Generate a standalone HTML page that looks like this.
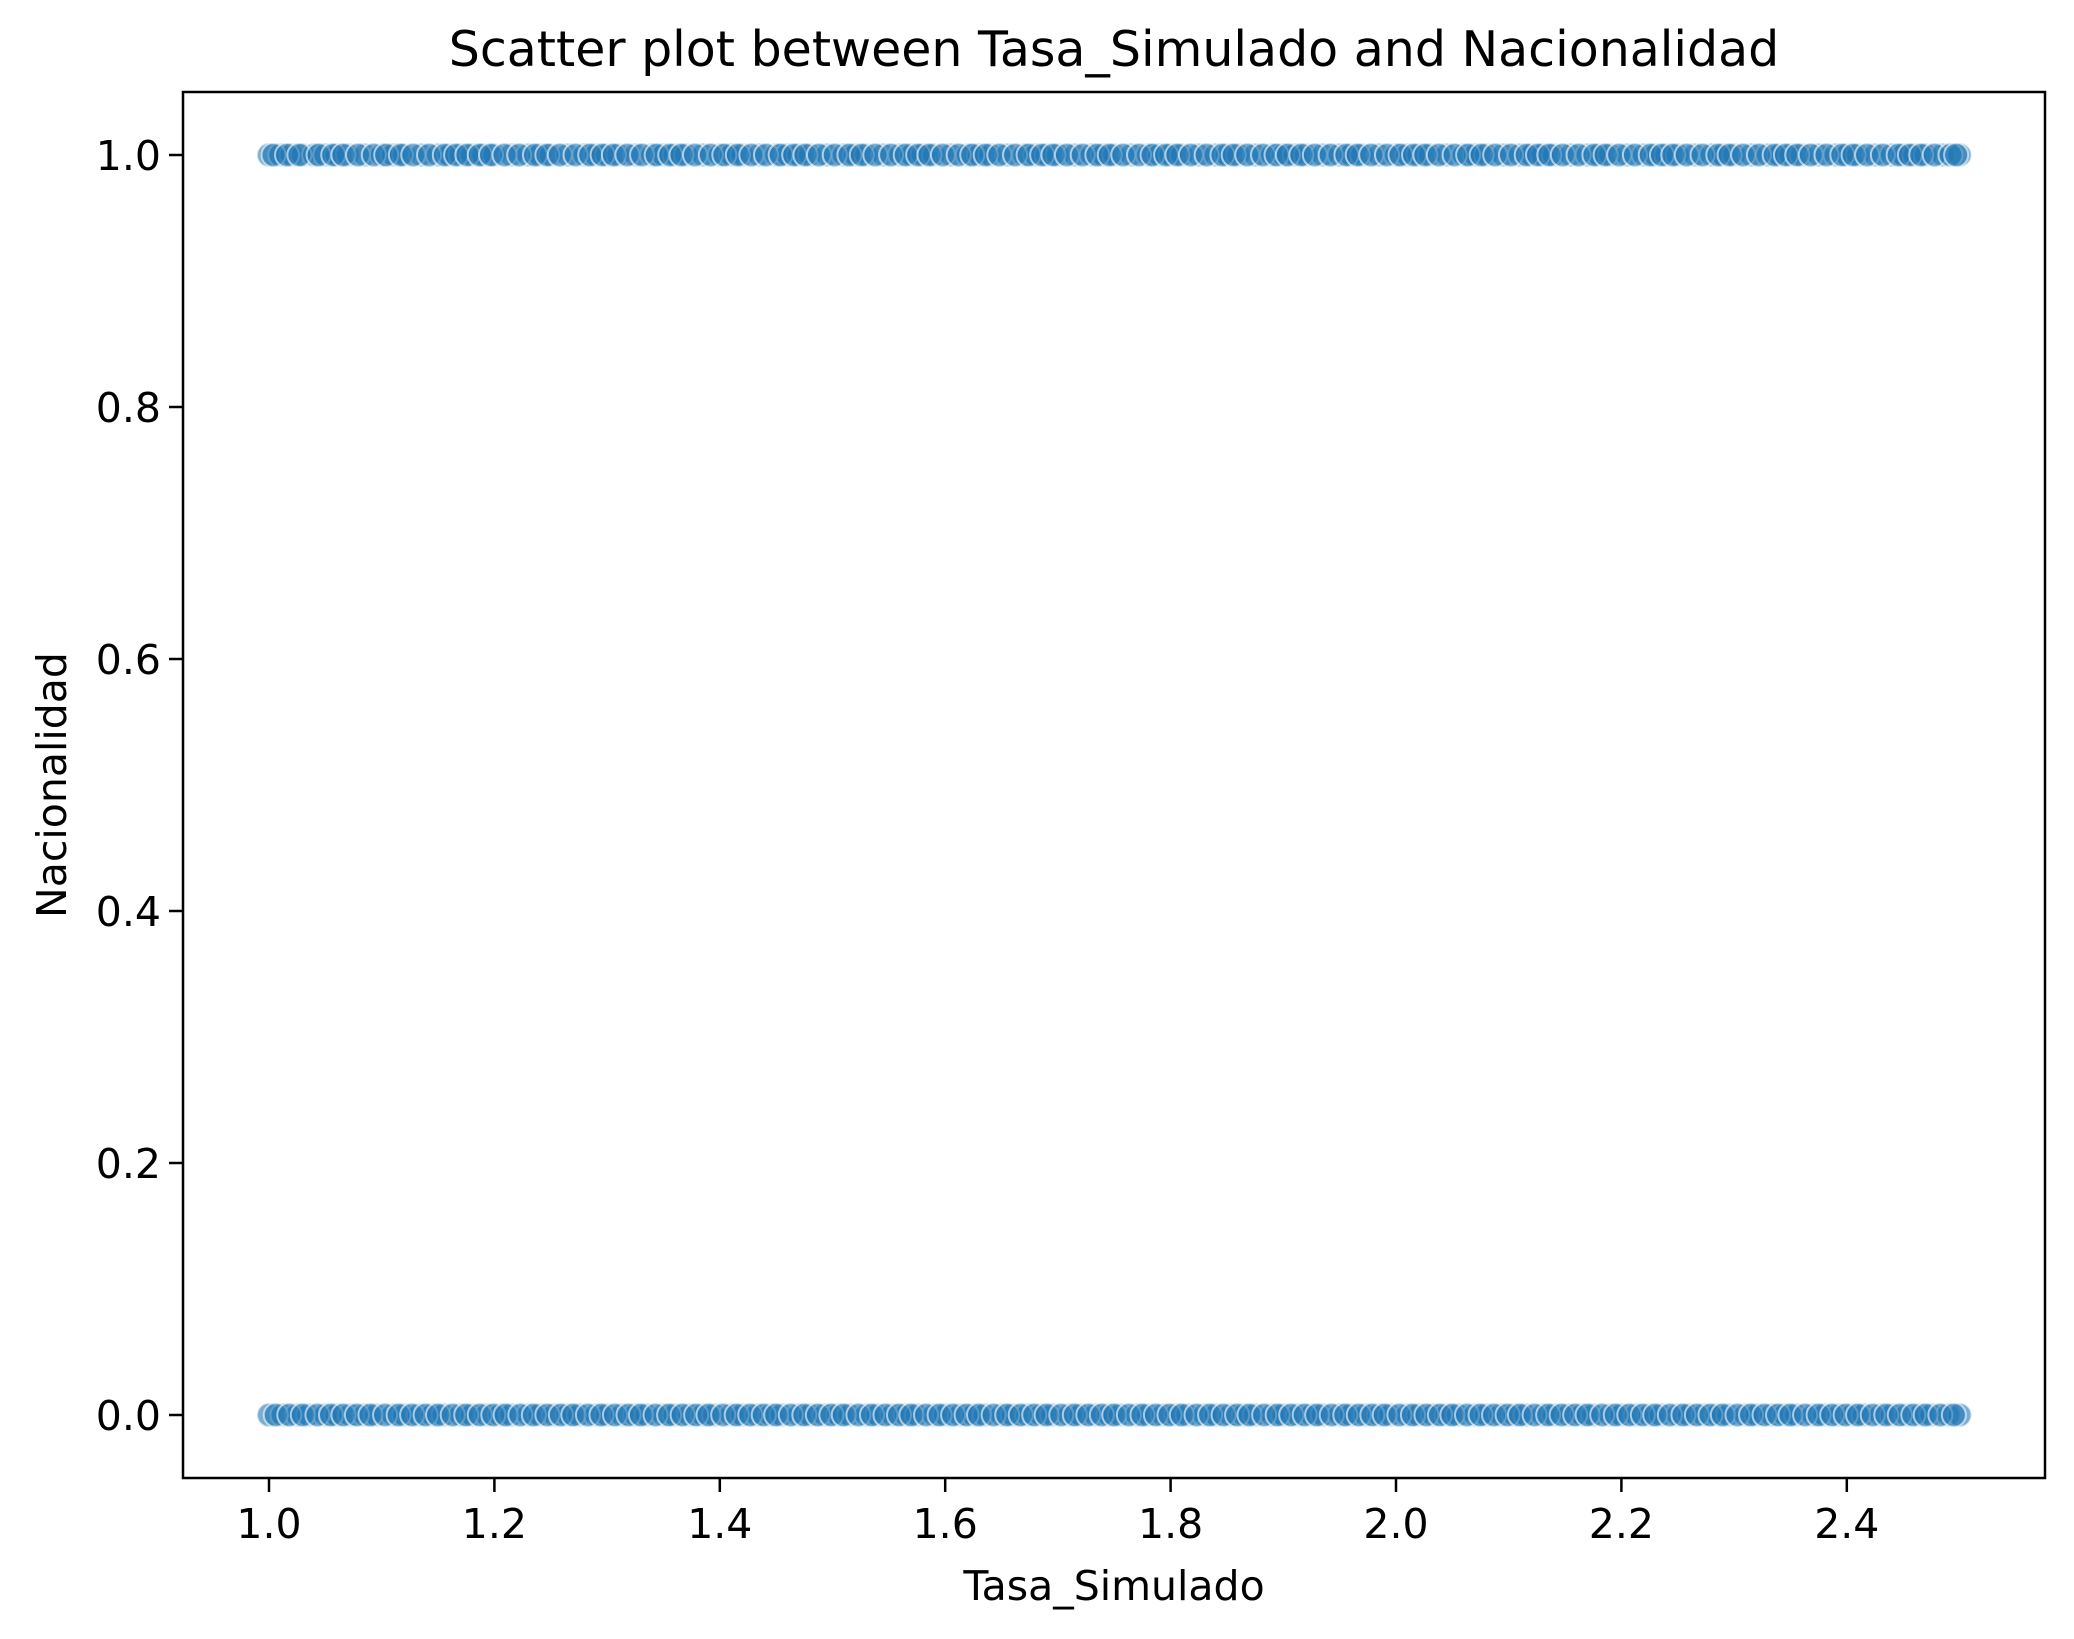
<!DOCTYPE html>
<html><head><meta charset="utf-8"><style>
html,body{margin:0;padding:0;background:#fff;}
svg{display:block;font-family:"DejaVu Sans","Liberation Sans",sans-serif;}
</style></head><body>
<svg id="chart" width="2074" height="1639" viewBox="0 0 2074 1639">
<rect width="2074" height="1639" fill="#fff"/>
<text x="1114" y="66" font-size="49" text-anchor="middle">Scatter plot between Tasa_Simulado and Nacionalidad</text>
<g id="points"></g>
<g id="axes"></g>
<text x="1114" y="1600" font-size="41" text-anchor="middle">Tasa_Simulado</text>
<text transform="translate(66,785) rotate(-90)" font-size="41" text-anchor="middle">Nacionalidad</text>
</svg>
<script>
const xTicks = [1.0, 1.2, 1.4, 1.6, 1.8, 2.0, 2.2, 2.4];
const xTickLabels = ["1.0","1.2","1.4","1.6","1.8","2.0","2.2","2.4"];
const yTicks = [0.0, 0.2, 0.4, 0.6, 0.8, 1.0];
const yTickLabels = ["0.0","0.2","0.4","0.6","0.8","1.0"];
const xTop = [1.00,1.01,1.02,1.03,1.04,1.05,1.06,1.07,1.085,1.10,1.11,1.12,1.135,1.15,1.16,1.17,1.18,1.19,1.20,1.215,1.23,1.24,1.25,1.265,1.28,1.29,1.30,1.31,1.325,1.34,1.35,1.36,1.37,1.385,1.40,1.41,1.42,1.435,1.45,1.46,1.47,1.48,1.495,1.51,1.52,1.53,1.545,1.56,1.57,1.58,1.59,1.605,1.62,1.63,1.64,1.655,1.67,1.68,1.69,1.70,1.715,1.73,1.74,1.75,1.765,1.78,1.79,1.80,1.81,1.825,1.84,1.85,1.86,1.875,1.89,1.90,1.91,1.92,1.935,1.95,1.96,1.97,1.985,2.00,2.01,2.02,2.03,2.045,2.06,2.07,2.08,2.095,2.11,2.12,2.13,2.14,2.155,2.17,2.18,2.19,2.205,2.22,2.23,2.24,2.25,2.265,2.28,2.29,2.30,2.315,2.33,2.34,2.35,2.36,2.375,2.39,2.40,2.41,2.425,2.44,2.45,2.46,2.47,2.485,2.50];
const xTopExtra = [1.004,1.016,1.027,1.044,1.057,1.066,1.079,1.093,1.104,1.117,1.128,1.142,1.156,1.166,1.176,1.187,1.197,1.209,1.222,1.236,1.247,1.258,1.272,1.285,1.296,1.306,1.318,1.331,1.344,1.356,1.366,1.378,1.392,1.404,1.416,1.428,1.441,1.454,1.466,1.476,1.488,1.502,1.515,1.526,1.538,1.552,1.565,1.576,1.586,1.598,1.612,1.624,1.636,1.648,1.662,1.674,1.686,1.696,1.708,1.722,1.735,1.746,1.758,1.772,1.784,1.796,1.806,1.818,1.832,1.846,1.856,1.868,1.882,1.894,1.904,1.916,1.928,1.942,1.956,1.966,1.978,1.992,2.004,2.016,2.026,2.038,2.052,2.064,2.076,2.088,2.102,2.116,2.126,2.136,2.148,2.162,2.176,2.186,2.198,2.212,2.226,2.236,2.246,2.258,2.272,2.286,2.296,2.308,2.322,2.336,2.346,2.356,2.368,2.382,2.396,2.406,2.418,2.432,2.446,2.456,2.466,2.478,2.492,2.497];
const xBottom = [1.00,1.012,1.025,1.035,1.05,1.06,1.072,1.085,1.095,1.11,1.12,1.133,1.145,1.155,1.17,1.18,1.193,1.205,1.215,1.23,1.24,1.253,1.265,1.275,1.29,1.30,1.313,1.325,1.335,1.35,1.36,1.373,1.385,1.395,1.41,1.42,1.433,1.445,1.455,1.47,1.48,1.493,1.505,1.515,1.53,1.54,1.553,1.565,1.575,1.59,1.60,1.613,1.625,1.635,1.65,1.66,1.673,1.685,1.695,1.71,1.72,1.733,1.745,1.755,1.77,1.78,1.793,1.805,1.815,1.83,1.84,1.853,1.865,1.875,1.89,1.90,1.913,1.925,1.935,1.95,1.96,1.973,1.985,1.995,2.01,2.02,2.033,2.045,2.055,2.07,2.08,2.093,2.105,2.115,2.13,2.14,2.153,2.165,2.175,2.19,2.20,2.213,2.225,2.235,2.25,2.26,2.273,2.285,2.295,2.31,2.32,2.333,2.345,2.355,2.37,2.38,2.393,2.405,2.415,2.43,2.44,2.453,2.465,2.475,2.49,2.50];
const xBottomExtra = [1.006,1.018,1.03,1.043,1.055,1.066,1.078,1.09,1.103,1.115,1.127,1.139,1.15,1.163,1.175,1.187,1.199,1.21,1.223,1.235,1.247,1.259,1.27,1.283,1.295,1.307,1.319,1.33,1.343,1.355,1.367,1.379,1.39,1.403,1.415,1.427,1.439,1.45,1.463,1.475,1.487,1.499,1.51,1.523,1.535,1.547,1.559,1.57,1.583,1.595,1.607,1.619,1.63,1.643,1.655,1.667,1.679,1.69,1.703,1.715,1.727,1.739,1.75,1.763,1.775,1.787,1.799,1.81,1.823,1.835,1.847,1.859,1.87,1.883,1.895,1.907,1.919,1.93,1.943,1.955,1.967,1.979,1.99,2.003,2.015,2.027,2.039,2.05,2.063,2.075,2.087,2.099,2.11,2.123,2.135,2.147,2.159,2.17,2.183,2.195,2.207,2.219,2.23,2.243,2.255,2.267,2.279,2.29,2.303,2.315,2.327,2.339,2.35,2.363,2.375,2.387,2.399,2.41,2.423,2.435,2.447,2.459,2.47,2.483,2.495];
const NS = "http://www.w3.org/2000/svg";
const L = 183, R = 2045, T = 92, B = 1478;
function xScale(v){ return 269 + (v - 1.0) * 1127; }
function yScale(v){ return 1415 - v * 1260; }
const pts = document.getElementById('points');
function drawRow(arr, yv){
  arr.forEach(v => {
    const c = document.createElementNS(NS, 'circle');
    c.setAttribute('cx', xScale(v));
    c.setAttribute('cy', yScale(yv));
    c.setAttribute('r', 12);
    c.setAttribute('fill', '#1f77b4');
    c.setAttribute('fill-opacity', 0.6);
    c.setAttribute('stroke', '#fff');
    c.setAttribute('stroke-opacity', 0.6);
    c.setAttribute('stroke-width', 2);
    
    
    pts.appendChild(c);
  });
}
drawRow(xTop, 1);
drawRow(xTopExtra, 1);
drawRow(xBottom, 0);
drawRow(xBottomExtra, 0);
const ax = document.getElementById('axes');
const frame = document.createElementNS(NS, 'rect');
frame.setAttribute('x', L); frame.setAttribute('y', T);
frame.setAttribute('width', R - L); frame.setAttribute('height', B - T);
frame.setAttribute('fill', 'none'); frame.setAttribute('stroke', '#000'); frame.setAttribute('stroke-width', 2.5);


ax.appendChild(frame);
xTicks.forEach((v, i) => {
  const x = xScale(v);
  const t = document.createElementNS(NS, 'line');
  t.setAttribute('x1', x); t.setAttribute('x2', x); t.setAttribute('y1', B); t.setAttribute('y2', B + 14);
  t.setAttribute('stroke', '#000'); t.setAttribute('stroke-width', 2.5);
  
  
  ax.appendChild(t);
  const lb = document.createElementNS(NS, 'text');
  lb.setAttribute('x', x); lb.setAttribute('y', B + 60);
  lb.setAttribute('font-size', 41); lb.setAttribute('text-anchor', 'middle');
  lb.textContent = xTickLabels[i];
  
  
  ax.appendChild(lb);
});
yTicks.forEach((v, i) => {
  const y = yScale(v);
  const t = document.createElementNS(NS, 'line');
  t.setAttribute('x1', L - 14); t.setAttribute('x2', L); t.setAttribute('y1', y); t.setAttribute('y2', y);
  t.setAttribute('stroke', '#000'); t.setAttribute('stroke-width', 2.5);
  
  
  ax.appendChild(t);
  const lb = document.createElementNS(NS, 'text');
  lb.setAttribute('x', L - 22); lb.setAttribute('y', y + 15);
  lb.setAttribute('font-size', 41); lb.setAttribute('text-anchor', 'end');
  lb.textContent = yTickLabels[i];
  
  
  ax.appendChild(lb);
});
</script>
</body></html>
